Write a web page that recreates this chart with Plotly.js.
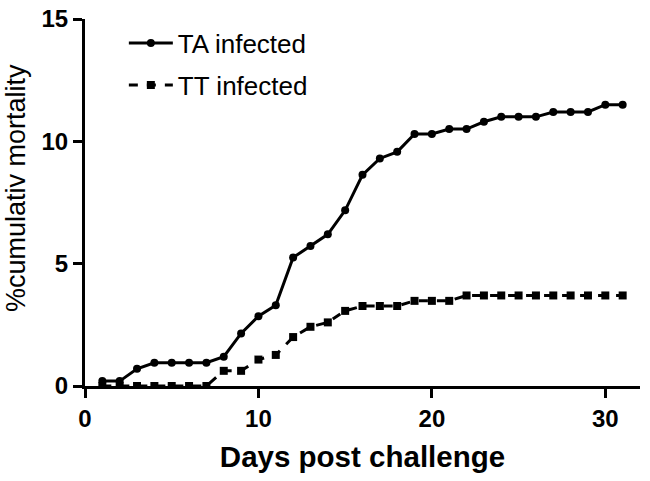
<!DOCTYPE html>
<html>
<head>
<meta charset="utf-8">
<script src="https://cdn.plot.ly/plotly-3.0.1.min.js"></script>
<style>html,body{margin:0;padding:0;background:#fff;}#chart{width:650px;height:481px;}</style>
</head>
<body>
<div id="chart"></div>
<script>
const days = [1,2,3,4,5,6,7,8,9,10,11,12,13,14,15,16,17,18,19,20,21,22,23,24,25,26,27,28,29,30,31];
const taInfected = [0.2,0.2,0.7,0.95,0.95,0.95,0.95,1.2,2.15,2.85,3.3,5.25,5.72,6.2,7.18,8.63,9.3,9.57,10.3,10.3,10.5,10.5,10.8,11.0,11.0,11.0,11.2,11.2,11.2,11.5,11.5];
const ttInfected = [0,0,0,0,0,0,0,0.62,0.62,1.08,1.27,2.0,2.42,2.6,3.07,3.27,3.27,3.27,3.48,3.48,3.48,3.7,3.7,3.7,3.7,3.7,3.7,3.7,3.7,3.7,3.7];
const seriesNames = ["TA infected","TT infected"];
const xTicks = [0,10,20,30];
const yTicks = [0,5,10,15];
const yTitle = "%cumulativ mortality";

const font = "Liberation Sans, Arial, sans-serif";
const traces = [
  {x: days, y: taInfected, name: seriesNames[0], type: "scatter", mode: "lines+markers",
   line: {color: "#000", width: 3}, marker: {symbol: "circle", size: 8, color: "#000"}, legend: "legend"},
  {x: days, y: ttInfected, name: seriesNames[1], type: "scatter", mode: "lines+markers",
   line: {color: "#000", width: 3, dash: "dash"}, marker: {symbol: "square", size: 8, color: "#000"}, legend: "legend2"}
];
const legendBase = {bgcolor: "rgba(0,0,0,0)", font: {family: font, size: 26, color: "#000"}, xanchor: "left", yanchor: "middle", itemwidth: 44};
const layout = {
  width: 650, height: 481,
  margin: {l: 85, r: 10, t: 19, b: 95},
  paper_bgcolor: "#fff", plot_bgcolor: "#fff",
  showlegend: true,
  legend: Object.assign({x: 0.07, y: 0.934}, legendBase),
  legend2: Object.assign({x: 0.07, y: 0.82}, legendBase),
  xaxis: {
    range: [0, 32], tickvals: xTicks, ticktext: xTicks.map(String),
    showline: true, linecolor: "#000", linewidth: 3, showgrid: false, zeroline: false,
    ticks: "outside", ticklen: 9, tickwidth: 3, tickcolor: "#000",
    tickfont: {family: font, size: 24, color: "#000", weight: "bold"},
    title: {text: "<b>Days post challenge</b>", font: {family: font, size: 29.5, color: "#000"}, standoff: 16}
  },
  yaxis: {
    range: [0, 15], tickvals: yTicks, ticktext: yTicks.map(String),
    showline: true, linecolor: "#000", linewidth: 3, showgrid: false, zeroline: false,
    ticks: "outside", ticklen: 9, tickwidth: 3, tickcolor: "#000",
    tickfont: {family: font, size: 24, color: "#000", weight: "bold"}
  },
  annotations: [{
    text: yTitle, xref: "paper", yref: "paper", x: -0.124, y: 0.54,
    xanchor: "center", yanchor: "middle", textangle: -90, showarrow: false,
    font: {family: font, size: 27, color: "#000"}
  }]
};
Plotly.newPlot("chart", traces, layout, {staticPlot: true, displayModeBar: false});
</script>
</body>
</html>
